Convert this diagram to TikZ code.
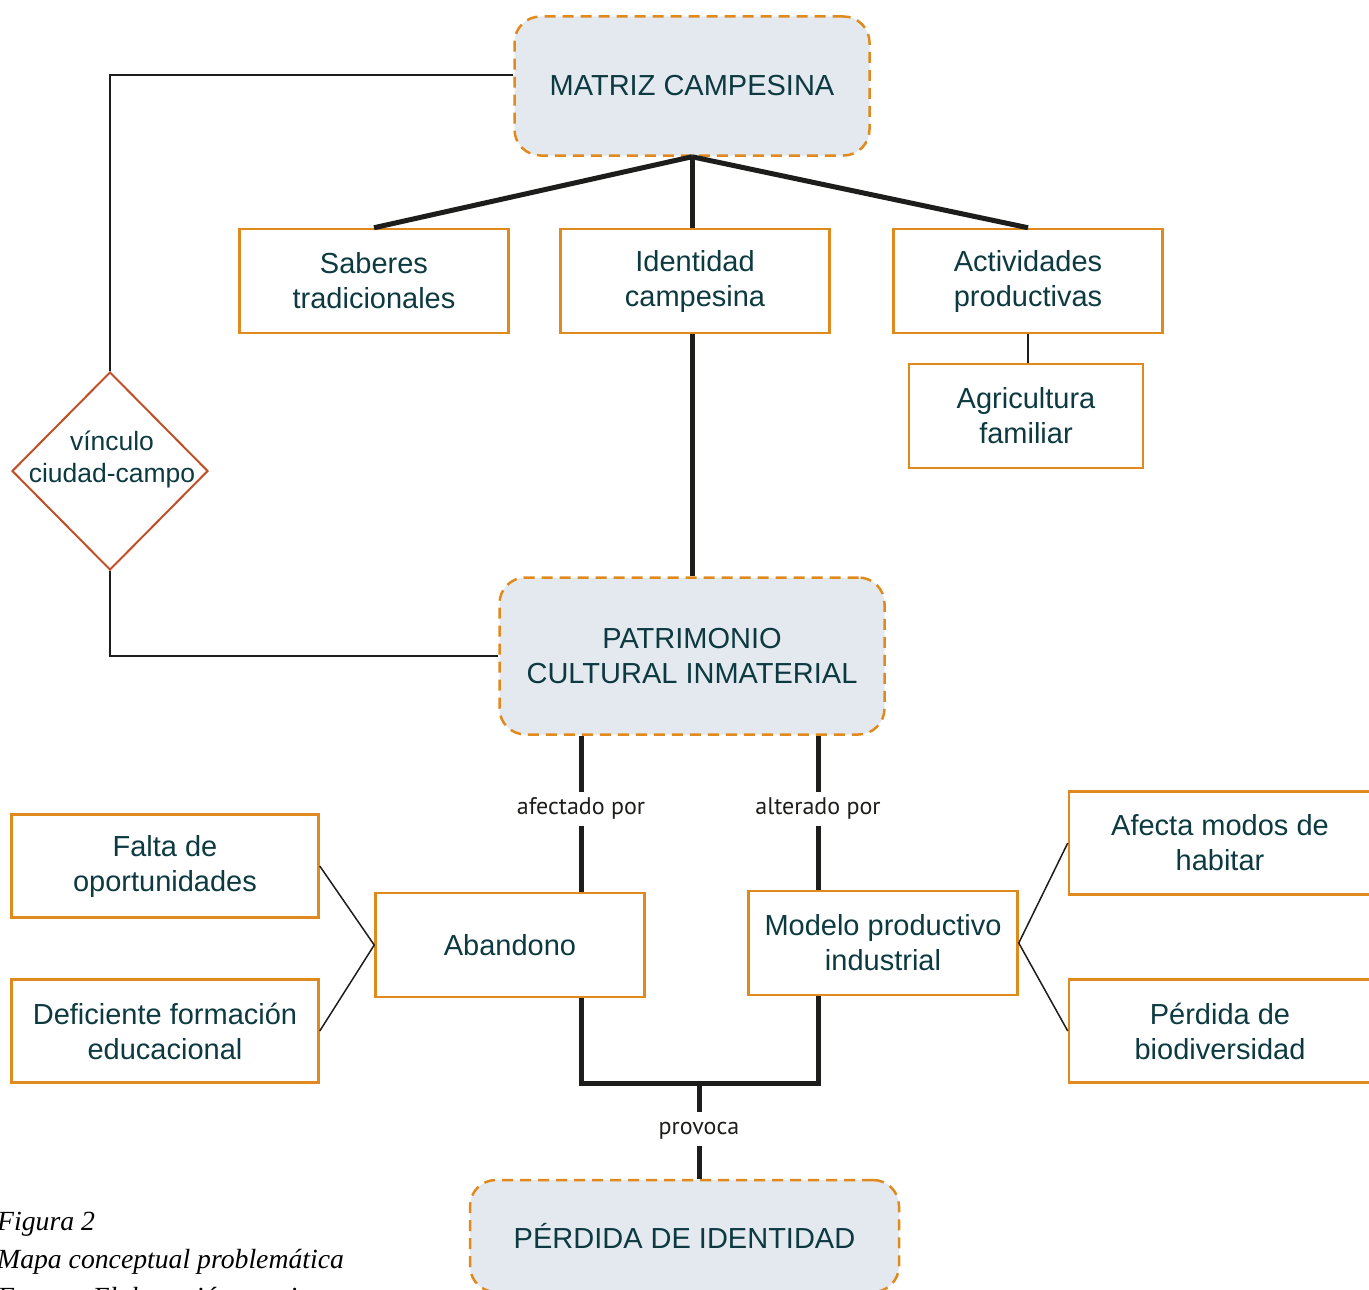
\documentclass[tikz,border=0pt]{standalone}
\usepackage{fontspec}
\setmainfont{Liberation Sans}
\newfontfamily\labelfont{PT Sans}
\newfontfamily\captionfont{Liberation Serif}
\usepackage{tikz}
\usetikzlibrary{shapes.geometric,positioning}
\definecolor{boxorange}{RGB}{224,138,30}
\definecolor{mainfill}{RGB}{228,233,240}
\definecolor{tealtext}{RGB}{12,58,64}
\definecolor{vinculoedge}{RGB}{192,80,40}
\definecolor{linkcolor}{RGB}{29,29,27}

\begin{document}
\begin{tikzpicture}[x=1pt,y=-1pt,
  concept/.style={draw=boxorange, line width=2.5pt, minimum width=269pt, minimum height=104pt, inner sep=0pt, align=center, text=tealtext, font=\fontsize{29}{35}\selectfont},
  main/.style={concept, fill=mainfill, rounded corners=26pt, dash pattern=on 11pt off 7pt},
  vinculo/.style={diamond, draw=vinculoedge, line width=2pt, minimum width=196pt, minimum height=198pt, inner sep=0pt},
  vinculotext/.style={text=tealtext, align=center, font=\fontsize{26.5}{32}\selectfont, yshift=12pt, xshift=2pt},
  link label/.style={font=\labelfont\fontsize{24}{28}\selectfont, text=linkcolor, inner sep=5pt, text height=17pt, text depth=6pt},
  bold link/.style={draw=linkcolor, line width=5pt},
  fine link/.style={draw=linkcolor, line width=1.5pt},
  caption/.style={font=\captionfont\itshape\fontsize{27.7}{33}\selectfont, inner sep=0pt, anchor=base west}]
\useasboundingbox (0,0) rectangle (1369,1290);
\clip (0,0) rectangle (1369,1290);

\node[main, minimum width=355pt, minimum height=139pt] (matriz) at (692,86) {MATRIZ CAMPESINA};
\node[concept] (saberes) at (374,281) {Saberes\\tradicionales};
\node[concept] (identidad) at (695,281) {Identidad\\campesina};
\node[concept] (actividades) at (1028,281) {Actividades\\productivas};
\node[concept, minimum width=234pt] (agricultura) at (1026,416) {Agricultura\\familiar};
\node[vinculo, label={[vinculotext]center:{vínculo\\ciudad-campo}}] (vinculo) at (110,471) {};
\node[main, minimum width=385pt, minimum height=157pt] (patrimonio) at (692,656) {PATRIMONIO\\CULTURAL INMATERIAL};
\node[concept, minimum width=307pt, minimum height=103pt] (falta) at (165,866) {Falta de\\oportunidades};
\node[concept, minimum width=307pt, minimum height=103pt] (deficiente) at (165,1031) {Deficiente formación\\educacional};
\node[concept] (abandono) at (510,945) {Abandono};
\node[concept] (modelo) at (883,943) {Modelo productivo\\industrial};
\node[concept, minimum width=302pt, minimum height=103pt] (afecta) at (1220,843) {Afecta modos de\\habitar};
\node[concept, minimum width=302pt, minimum height=103pt] (biodiversidad) at (1220,1031) {Pérdida de\\biodiversidad};
\node[main, minimum width=429pt, minimum height=112pt] (perdida) at (684.5,1236) {PÉRDIDA DE IDENTIDAD};

\node[link label] (afectado) at (581,809) {afectado por};
\node[link label] (alterado) at (818,809) {alterado por};
\node[link label] (provoca) at (699,1129) {provoca};
\coordinate (union) at (699,1083);

\draw[fine link] ([yshift=11pt]matriz.west) -| (vinculo.north);
\draw[fine link] (vinculo.south) |- (patrimonio.west);
\draw[bold link] (matriz.south) -- (saberes.north);
\draw[bold link] (matriz.south) -- (patrimonio.north |- identidad.north);
\draw[bold link] (matriz.south) -- (actividades.north);
\draw[bold link] (patrimonio.north |- identidad.south) -- (patrimonio.north);
\draw[fine link] (actividades.south) -- (actividades.south |- agricultura.north);

\draw[bold link] (patrimonio.south -| afectado) -- (afectado) -- (abandono.north -| afectado);
\draw[bold link] (patrimonio.south -| alterado) -- (alterado) -- (modelo.north -| alterado);
\draw[bold link] (abandono.south -| afectado) |- (union) -| (modelo.south -| alterado);
\draw[bold link] (union) -- (provoca) -- (perdida.north -| provoca);

\draw[fine link] (abandono.west) -- (falta.east);
\draw[fine link] (abandono.west) -- (deficiente.east);
\draw[fine link] (modelo.east) -- (afecta.west);
\draw[fine link] (modelo.east) -- (biodiversidad.west);

\node[caption] (figura) at (-3,1230) {Figura 2};
\node[caption] (titulo) at (-3,1268) {Mapa conceptual problemática};
\node[caption] (fuente) at (-3,1306) {Fuente: Elaboración propia};
\end{tikzpicture}
\end{document}
